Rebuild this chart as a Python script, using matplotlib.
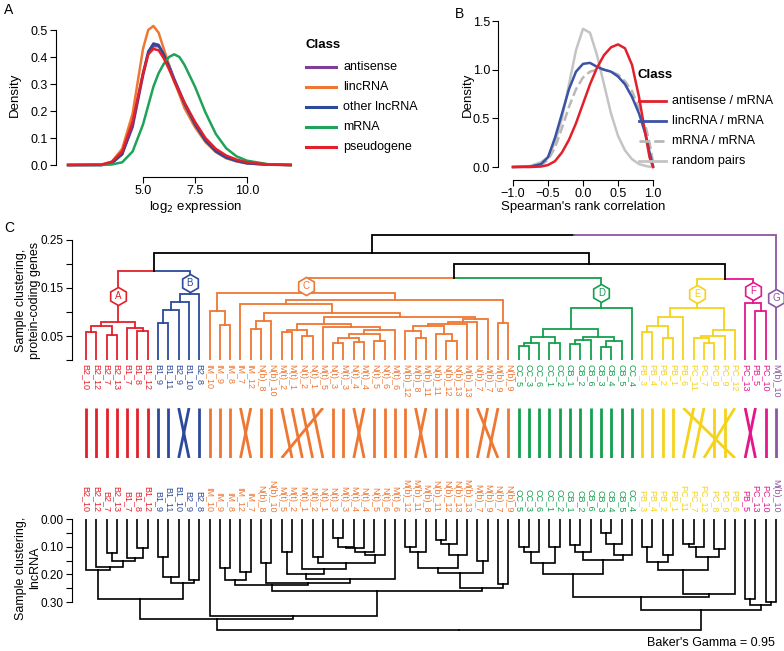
import matplotlib
matplotlib.use("Agg")
import matplotlib.pyplot as plt
from matplotlib.lines import Line2D

plt.rcParams['font.family'] = ['Liberation Sans', 'DejaVu Sans']

W, H = 784, 651

# ---------------- panel A: expression densities ----------------
expr_x = [1.4, 3.0, 3.5, 4.0, 4.5, 5.0, 5.25, 5.5, 5.75, 6.0, 6.25, 6.5, 6.75,
          7.0, 7.5, 8.0, 8.5, 9.0, 9.5, 10.0, 11.0, 12.1]
dens_antisense = [0, 0, 0.008, 0.04, 0.14, 0.33, 0.41, 0.44, 0.44, 0.41, 0.37, 0.32, 0.275,
                  0.23, 0.155, 0.095, 0.055, 0.03, 0.017, 0.008, 0.002, 0]
dens_lincrna = [0, 0.002, 0.012, 0.06, 0.19, 0.43, 0.5, 0.515, 0.49, 0.43, 0.37, 0.31, 0.26,
                0.21, 0.14, 0.085, 0.048, 0.025, 0.013, 0.006, 0.001, 0]
dens_other = [0, 0, 0.006, 0.04, 0.15, 0.34, 0.42, 0.45, 0.445, 0.41, 0.365, 0.315, 0.27,
              0.225, 0.15, 0.09, 0.05, 0.027, 0.015, 0.006, 0.001, 0]
dens_mrna = [0, 0, 0.002, 0.01, 0.05, 0.15, 0.22, 0.29, 0.34, 0.375, 0.4, 0.41, 0.4,
             0.37, 0.29, 0.195, 0.115, 0.062, 0.032, 0.016, 0.003, 0]
dens_pseudo = [0, 0.001, 0.012, 0.05, 0.16, 0.34, 0.41, 0.43, 0.425, 0.395, 0.355, 0.31, 0.27,
               0.23, 0.16, 0.10, 0.06, 0.035, 0.02, 0.01, 0.002, 0]
a_names = ['antisense', 'lincRNA', 'other lncRNA', 'mRNA', 'pseudogene']
a_colors = ['#7D3F98', '#EE7733', '#2B4A9B', '#1FA25A', '#E3202A']
a_series = [dens_antisense, dens_lincrna, dens_other, dens_mrna, dens_pseudo]

# ---------------- panel B: correlation densities ----------------
corr_x = [-1.0, -0.75, -0.6, -0.5, -0.4, -0.3, -0.2, -0.1, 0.0, 0.1, 0.2, 0.3, 0.4,
          0.5, 0.6, 0.7, 0.8, 0.9, 0.95, 1.0]
dens_as_m = [0, 0, 0.005, 0.02, 0.06, 0.15, 0.28, 0.45, 0.65, 0.85, 1.02, 1.15, 1.23,
             1.26, 1.22, 1.05, 0.72, 0.3, 0.1, 0]
dens_li_m = [0, 0.005, 0.03, 0.1, 0.3, 0.55, 0.8, 0.98, 1.06, 1.07, 1.03, 1.0, 0.98,
             0.93, 0.85, 0.72, 0.55, 0.32, 0.15, 0.01]
dens_m_m = [0, 0.002, 0.02, 0.07, 0.2, 0.4, 0.62, 0.8, 0.92, 0.98, 1.0, 1.0, 0.98,
            0.95, 0.88, 0.78, 0.6, 0.4, 0.25, 0.05]
dens_rand = [0, 0.01, 0.05, 0.1, 0.25, 0.5, 0.85, 1.2, 1.42, 1.38, 1.15, 0.85, 0.55,
             0.32, 0.17, 0.08, 0.03, 0.01, 0.003, 0]
b_names = ['antisense / mRNA', 'lincRNA / mRNA', 'mRNA / mRNA', 'random pairs']
b_colors = ['#E3202A', '#3A53A4', '#B8B8B8', '#C4C4C4']
b_styles = ['-', '-', '--', '-']
b_series = [dens_as_m, dens_li_m, dens_m_m, dens_rand]

# ---------------- panel C: dendrograms (height, left, right) ----------------
clu_A = (0.080, (0.070, (0.059, 'B2_10', 'B2_12'), (0.053, 'B2_7', 'B2_13')),
         (0.066, 'B1_7', (0.060, 'B1_8', 'B1_12')))
clu_B = (0.137, (0.121, (0.104, (0.078, 'B1_9', 'B1_11'), 'B2_9'), 'B1_10'), 'B2_8')
clu_C = (0.139,
         (0.103, 'IM_10', (0.073, 'IM_9', 'IM_8')),
         (0.125,
          (0.117, 'IM_7',
           (0.097,
            (0.082, (0.065, 'IM_12', 'N(b)_8'), 'N(b)_10'),
            (0.089,
             (0.074,
              (0.0625, (0.059, 'M(t)_2', 'M(t)_1'), (0.050, 'N(t)_2', 'N(t)_1')),
              (0.069, 'M(t)_5',
               (0.0625,
                (0.055,
                 (0.045, (0.035, 'N(t)_3', 'M(t)_3'), (0.038, 'N(t)_4', 'M(t)_4')),
                 (0.040, 'N(t)_5', 'N(t)_6')),
                'M(t)_6'))),
             (0.085,
              (0.080,
               (0.075,
                (0.070, (0.060, 'M(b)_12', (0.045, 'M(b)_8', 'M(b)_11')),
                 (0.055, 'N(b)_11', (0.040, 'N(b)_12', 'N(b)_13'))),
                'M(b)_13'),
               'N(b)_7'),
              'M(b)_7')))),
          (0.078, 'M(b)_9', 'N(b)_9')))
clu_D = (0.108,
         (0.0646,
          (0.047, (0.035, (0.030, 'CC_5', 'CC_3'), 'CC_6'), (0.035, 'CC_1', 'CC_2')),
          (0.047, (0.042, (0.033, 'CB_1', 'CB_2'), 'CB_6'), (0.040, (0.028, 'CB_3', 'CB_4'), 'CB_5'))),
         'CC_4')
clu_E = (0.108,
         (0.089, (0.070, (0.058, 'PB_3', 'PB_4'), (0.045, 'PB_2', 'PB_1')), 'PB_6'),
         (0.0625, (0.050, (0.045, 'PC_11', (0.035, 'PC_7', 'PC_8')), 'PC_9'), 'PC_12'))
clu_F = (0.118, 'PC_13', (0.103, 'PB_5', 'PC_10'))
clu_G = 'M(b)_10'
tree_top = (0.260,
            (0.222, (0.185, clu_A, clu_B),
             (0.201, (0.171, clu_C, clu_D), (0.168, clu_E, clu_F))),
            clu_G)

clusters = [('A', clu_A, '#E3202A'), ('B', clu_B, '#2B4A9B'), ('C', clu_C, '#EE7733'),
            ('D', clu_D, '#14A04E'), ('E', clu_E, '#F6D21A'), ('F', clu_F, '#E4168B'),
            ('G', clu_G, '#8D55A2')]

tree_bot = (0.40,
            (0.36,
             (0.29,
              (0.184, 'B2_10', (0.172, 'B2_12',
                                (0.150, (0.124, 'B2_7', 'B2_13'),
                                 (0.140, 'B1_7', (0.106, 'B1_8', 'B1_12'))))),
              (0.23, (0.21, (0.136, 'B1_9', 'B1_11'), 'B1_10'), (0.22, 'B2_9', 'B2_8'))),
             (0.35, 'IM_10',
              (0.26,
               (0.24,
                (0.22, (0.178, 'IM_9', 'IM_8'), (0.19, 'IM_12', 'IM_7')),
                (0.23, (0.16, 'N(b)_8', 'N(b)_10'),
                 (0.215,
                  (0.20, (0.118, 'M(t)_5', 'M(t)_2'),
                   (0.18, 'M(t)_1',
                    (0.16, (0.136, 'N(t)_2', 'N(t)_1'),
                     (0.13, (0.118, (0.106, (0.10, (0.07, 'N(t)_3', 'M(t)_3'), 'M(t)_4'), 'N(t)_4'),
                             'N(t)_5'), 'N(t)_6')))),
                  'M(t)_6'))),
               (0.25,
                (0.196,
                 (0.178, (0.12, (0.10, 'M(b)_12', 'M(b)_11'), 'M(b)_8'),
                  (0.13, (0.09, (0.075, 'N(b)_11', 'N(b)_12'), 'N(b)_13'), 'M(b)_13')),
                 (0.15, 'M(b)_7', 'M(b)_9')),
                (0.235, 'N(b)_7', 'N(b)_9'))))),
            (0.33,
             (0.28,
              (0.20,
               (0.16, (0.12, (0.10, 'CC_5', 'CC_3'), 'CC_6'), (0.10, 'CC_1', 'CC_2')),
               (0.148, (0.12, (0.095, 'CB_1', 'CB_2'), 'CB_6'),
                (0.13, (0.09, (0.05, 'CB_3', 'CB_4'), 'CB_5'), 'CC_4'))),
              (0.27,
               (0.184, (0.155, (0.10, 'PB_3', 'PB_4'), (0.13, 'PB_2', 'PB_1')),
                (0.136, (0.10, (0.09, 'PC_11', 'PC_7'), 'PC_12'), (0.11, 'PC_8', 'PC_9'))),
               'PB_6')),
             (0.31, (0.29, 'PB_5', 'PC_13'), (0.30, 'PC_10', 'M(b)_10'))))


def leaves(node):
    if isinstance(node, str):
        return [node]
    return leaves(node[1]) + leaves(node[2])


color_of = {}
letter_of = {}
for letter, sub, col in clusters:
    for lab in leaves(sub):
        color_of[lab] = col
        letter_of[lab] = letter


def branch_color(node):
    cols = {color_of[l] for l in leaves(node)}
    return cols.pop() if len(cols) == 1 else 'black'


fig = plt.figure(figsize=(W / 100, H / 100), dpi=100)


def axes_px(left, top, right, bottom):
    return fig.add_axes([left / W, 1 - bottom / H, (right - left) / W, (bottom - top) / H])


def fig_text(x, y, s, **kw):
    fig.text(x / W, 1 - y / H, s, **kw)


def fig_line(x0, x1, y, **kw):
    fig.add_artist(Line2D([x0 / W, x1 / W], [1 - y / H, 1 - y / H], **kw))


def draw_tree(ax, node, pos, colored, lw, hexes):
    if isinstance(node, str):
        return pos[node], 0.0
    h = node[0]
    xl, hl = draw_tree(ax, node[1], pos, colored, lw, hexes)
    xr, hr = draw_tree(ax, node[2], pos, colored, lw, hexes)
    x = (xl + xr) / 2
    for child, cx, ch in ((node[1], xl, hl), (node[2], xr, hr)):
        c = branch_color(child) if colored else 'black'
        ax.plot([cx, cx, x], [ch, h, h], color=c, lw=lw, solid_joinstyle='miter',
                solid_capstyle='projecting')
        if colored and c != 'black' and branch_color(node) == 'black':
            hexes.append((cx, (ch + h) / 2, c, letter_of[leaves(child)[0]]))
    return x, h


def style_panel(ax, xlim, ylim, xb, yb):
    ax.set_xlim(*xlim)
    ax.set_ylim(*ylim)
    for s in ('top', 'right'):
        ax.spines[s].set_visible(False)
    ax.spines['left'].set_position(('outward', 7))
    ax.spines['bottom'].set_position(('outward', 7))
    ax.spines['left'].set_bounds(*yb)
    ax.spines['bottom'].set_bounds(*xb)
    ax.tick_params(labelsize=9, length=4, width=0.8, pad=2)
    ax.set_facecolor('none')


# ---- panel A ----
axA = axes_px(66, 12, 300, 167)
for name, col, ys in zip(a_names, a_colors, a_series):
    axA.plot(expr_x, ys, color=col, lw=1.8)
style_panel(axA, (1.298, 12.548), (-0.0074, 0.5667), (5, 10), (0, 0.5))
axA.set_xticks([5, 7.5, 10], ['5.0', '7.5', '10.0'])
axA.set_yticks([0, 0.1, 0.2, 0.3, 0.4, 0.5], ['0.0', '0.1', '0.2', '0.3', '0.4', '0.5'])
fig_text(195, 207, r'log$_2$ expression', ha='center', va='center', fontsize=9.5)
fig_text(15, 95, 'Density', rotation=90, ha='center', va='center', fontsize=9.5)
fig_text(306, 45, 'Class', fontweight='bold', fontsize=9.5, va='center')
for k, (name, col) in enumerate(zip(a_names, a_colors)):
    y = 67 + k * 20
    fig_line(306, 336, y, color=col, lw=2.2)
    fig_text(343, y, name, fontsize=9, va='center')

# ---- panel B ----
axB = axes_px(508, 12, 665, 170)
for name, col, ls, ys in zip(b_names[::-1], b_colors[::-1], b_styles[::-1], b_series[::-1]):
    axB.plot(corr_x, ys, color=col, lw=1.8, ls=ls)
style_panel(axB, (-1.071, 1.171), (-0.0308, 1.593), (-1, 1), (0, 1.5))
axB.set_xticks([-1, -0.5, 0, 0.5, 1], ['\u22121.0', '\u22120.5', '0.0', '0.5', '1.0'])
axB.set_yticks([0, 0.5, 1, 1.5], ['0.0', '0.5', '1.0', '1.5'])
fig_text(583, 207, "Spearman's rank correlation", ha='center', va='center', fontsize=9.5)
fig_text(468, 95, 'Density', rotation=90, ha='center', va='center', fontsize=9.5)
fig_text(637, 75, 'Class', fontweight='bold', fontsize=9.5, va='center')
for k, (name, col, ls) in enumerate(zip(b_names, b_colors, b_styles)):
    y = 101 + k * 20
    fig_line(639, 666, y, color=col, lw=2.0, ls=ls)
    fig_text(672, y, name, fontsize=9, va='center')

# ---- panel C ----
top_order = leaves(tree_top)
bot_order = leaves(tree_bot)
top_pos = {lab: i for i, lab in enumerate(top_order)}
bot_pos = {lab: i for i, lab in enumerate(bot_order)}
xlim_c = (-1.359, 67.77)

axT = axes_px(72, 228, 784, 360)
hexes = []
draw_tree(axT, tree_top, top_pos, True, 1.3, hexes)
for x, y, c, letter in hexes:
    axT.plot(x, y, marker='h', ms=13, mfc='white', mec=c, mew=1.2, zorder=5)
    axT.text(x, y, letter, color=c, fontsize=7, ha='center', va='center', zorder=6)
for lab, i in top_pos.items():
    axT.text(i, -0.008, lab, rotation=270, ha='center', va='top', fontsize=6.5,
             color=color_of[lab], clip_on=False)
axT.set_xlim(*xlim_c)
axT.set_ylim(0, 0.275)
for s in ('top', 'right', 'bottom'):
    axT.spines[s].set_visible(False)
axT.spines['left'].set_bounds(0, 0.25)
axT.set_xticks([])
axT.set_yticks([0, 0.05, 0.10, 0.15, 0.20, 0.25], ['', '0.05', '', '0.15', '', '0.25'])
axT.tick_params(labelsize=8.5, length=4, width=0.8, pad=2)
axT.set_facecolor('none')

axL = axes_px(72, 408, 784, 458)
for lab in top_order:
    axL.plot([top_pos[lab], bot_pos[lab]], [1, 0], color=color_of[lab], lw=2.0,
             solid_capstyle='butt')
axL.set_xlim(*xlim_c)
axL.set_ylim(0, 1)
axL.axis('off')

axD = axes_px(72, 519, 784, 645)
draw_tree(axD, tree_bot, bot_pos, False, 1.2, [])
for lab, i in bot_pos.items():
    axD.text(i, -0.025, lab, rotation=270, ha='center', va='bottom', fontsize=6.5,
             color=color_of[lab], clip_on=False)
axD.set_xlim(*xlim_c)
axD.set_ylim(0.4549, 0)
for s in ('top', 'right', 'bottom'):
    axD.spines[s].set_visible(False)
axD.spines['left'].set_bounds(0, 0.30)
axD.set_xticks([])
axD.set_yticks([0, 0.05, 0.10, 0.15, 0.20, 0.25, 0.30],
               ['0.00', '', '0.10', '', '0.20', '', '0.30'])
axD.tick_params(labelsize=8.5, length=4, width=0.8, pad=2)
axD.set_facecolor('none')

fig_text(28, 300, 'Sample clustering,\nprotein-coding genes', rotation=90, ha='center',
         va='center', fontsize=9, linespacing=1.15)
fig_text(28, 568, 'Sample clustering,\nlncRNA', rotation=90, ha='center', va='center',
         fontsize=9, linespacing=1.15)
fig_text(775, 643, "Baker's Gamma = 0.95", ha='right', va='center', fontsize=9)

fig_text(9, 10, 'A', fontsize=10, va='center', ha='center')
fig_text(459, 14, 'B', fontsize=10, va='center', ha='center')
fig_text(9, 228, 'C', fontsize=10, va='center', ha='center')

fig.savefig('out.png', dpi=100)
